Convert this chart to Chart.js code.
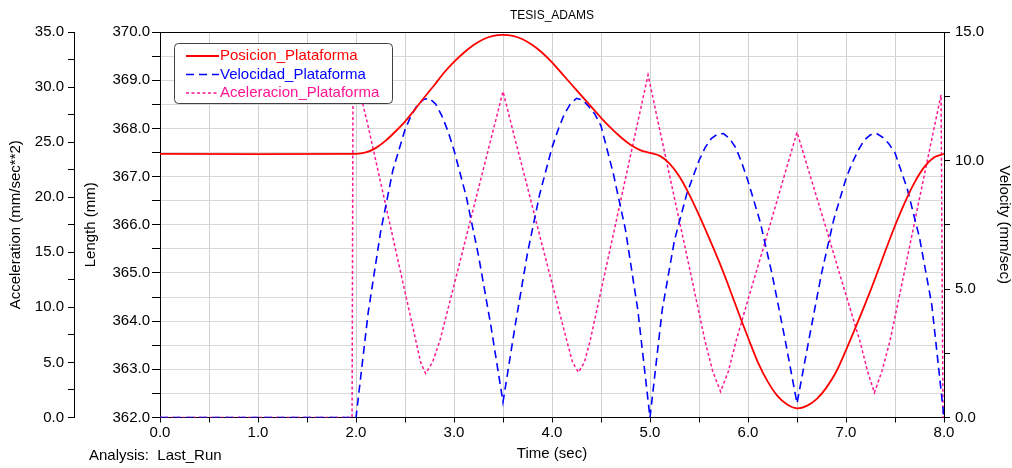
<!DOCTYPE html>
<html lang="es">
<head>
  <meta charset="UTF-8">
  <title>TESIS_ADAMS</title>
  <script src="https://cdn.jsdelivr.net/npm/chart.js"></script>
  <style>
    body { margin: 0; background: #fff; }
  </style>
</head>
<body>
  <canvas id="grafico" width="1012" height="468"></canvas>

  <script>
    // Posicion de la plataforma (mm)
    const posTime = [0, 2.0, 2.1, 2.2, 2.3, 2.4, 2.5, 2.6, 2.7, 2.8, 2.9, 3.0, 3.1, 3.2, 3.3, 3.4, 3.5,
      3.6, 3.7, 3.8, 3.9, 4.0, 4.1, 4.2, 4.3, 4.4, 4.5, 4.6, 4.7, 4.8, 4.9, 5.0,
      5.1, 5.2, 5.3, 5.4, 5.5, 5.6, 5.7, 5.8, 5.9, 6.0, 6.1, 6.2, 6.3, 6.4, 6.5,
      6.6, 6.7, 6.8, 6.9, 7.0, 7.1, 7.2, 7.3, 7.4, 7.5, 7.6, 7.7, 7.8, 7.9, 8.0];
    const posValues = [367.47, 367.47, 367.50, 367.59, 367.74, 367.93, 368.14, 368.39, 368.65, 368.90, 369.16, 369.38, 369.57, 369.73, 369.85, 369.92, 369.94,
      369.92, 369.85, 369.73, 369.57, 369.37, 369.14, 368.91, 368.68, 368.45, 368.22, 368.01, 367.82, 367.66, 367.55, 367.49,
      367.43, 367.27, 367.00, 366.63, 366.20, 365.74, 365.26, 364.74, 364.19, 363.66, 363.15, 362.75, 362.45, 362.27, 362.19,
      362.24, 362.38, 362.62, 362.95, 363.40, 363.88, 364.38, 364.90, 365.45, 365.98, 366.46, 366.88, 367.20, 367.40, 367.47];

    // Velocidad de la plataforma (mm/sec)
    const velTime = [0, 2.0, 2.125, 2.25, 2.375, 2.5, 2.5625, 2.625, 2.6875, 2.75, 2.8125, 2.875, 2.9375, 3.0, 3.125, 3.25, 3.375, 3.5,
      3.625, 3.75, 3.875, 4.0, 4.0625, 4.125, 4.1875, 4.25, 4.3125, 4.375, 4.4375, 4.5, 4.625, 4.75, 4.875, 5.0,
      5.125, 5.25, 5.375, 5.5, 5.5625, 5.625, 5.6875, 5.75, 5.8125, 5.875, 5.9375, 6.0, 6.125, 6.25, 6.375, 6.5,
      6.625, 6.75, 6.875, 7.0, 7.0625, 7.125, 7.1875, 7.25, 7.3125, 7.375, 7.4375, 7.5, 7.625, 7.75, 7.875, 8.0];
    const velValues = [0, 0, 4.1, 7.2, 9.6, 11.2, 11.75, 12.15, 12.37, 12.42, 12.2, 11.75, 11.15, 10.4, 8.6, 6.3, 3.6, 0.6,
      3.6, 6.4, 8.7, 10.5, 11.2, 11.8, 12.2, 12.42, 12.35, 12.1, 11.8, 11.35, 9.5, 7.3, 4.2, 0,
      4.2, 6.9, 8.7, 10.0, 10.5, 10.85, 11.02, 11.05, 10.85, 10.5, 9.9, 9.2, 7.6, 5.5, 3.1, 0.55,
      3.1, 5.6, 7.7, 9.3, 9.9, 10.4, 10.8, 11.0, 11.05, 10.9, 10.65, 10.3, 8.9, 7.0, 4.4, 0];

    // Aceleracion de la plataforma (mm/sec**2)
    const accTime = [0, 1.96, 1.97, 2.125, 2.25, 2.375, 2.5, 2.61, 2.66, 2.71, 2.78, 2.857, 3.0, 3.125, 3.25, 3.375, 3.5,
      3.625, 3.75, 3.875, 4.0, 4.15, 4.21, 4.27, 4.33, 4.39, 4.5, 4.625, 4.75, 4.875, 4.98,
      5.1, 5.25, 5.4, 5.56, 5.64, 5.72, 5.8, 5.88, 6.0, 6.15, 6.3, 6.5,
      6.65, 6.8, 6.95, 7.14, 7.22, 7.29, 7.37, 7.45, 7.6, 7.75, 7.85, 7.97, 7.99, 8.0];
    const accValues = [0, 0, 32.2, 26.4, 21.4, 16.4, 11.4, 7.0, 5.0, 4.0, 5.0, 7.0, 12.0, 16.4, 20.8, 25.2, 29.6,
      25.2, 20.9, 16.5, 12.2, 7.0, 5.0, 4.1, 5.0, 7.0, 11.5, 16.6, 21.7, 26.8, 31.1,
      26.1, 19.9, 13.7, 7.0, 4.2, 2.35, 4.2, 7.0, 10.7, 15.2, 19.8, 25.9,
      21.5, 17.1, 12.6, 7.0, 4.2, 2.25, 4.3, 7.0, 13.4, 19.9, 24.2, 29.3, 0, 0];

    const toPoints = (xs, ys) => xs.map((x, i) => ({ x: x, y: ys[i] }));

    const fuente = '"Liberation Sans", Arial, sans-serif';
    Chart.defaults.font.family = fuente;
    Chart.defaults.font.size = 15;
    Chart.defaults.color = '#000';

    // etiquetas solo en los valores "enteros" de cada eje
    const cada = paso => v => (Math.abs(v / paso - Math.round(v / paso)) < 1e-6 ? v.toFixed(1) : '');

    // titulo, caja de leyenda, borde superior y texto de analisis
    const decorado = {
      id: 'decorado',
      afterDraw(chart) {
        const { ctx, chartArea: a } = chart;
        ctx.save();
        ctx.strokeStyle = '#000';
        ctx.lineWidth = 1;
        ctx.setLineDash([]);
        ctx.beginPath();
        ctx.moveTo(a.left, Math.round(a.top) + 0.5);
        ctx.lineTo(a.right, Math.round(a.top) + 0.5);
        ctx.stroke();

        ctx.fillStyle = '#000';
        ctx.textAlign = 'center';
        ctx.textBaseline = 'middle';
        ctx.font = '12px ' + fuente;
        ctx.fillText('TESIS_ADAMS', (a.left + a.right) / 2, 16);

        // leyenda
        ctx.beginPath();
        ctx.roundRect(174.5, 43.5, 218, 60, 4);
        ctx.fillStyle = '#fff';
        ctx.fill();
        ctx.strokeStyle = '#404040';
        ctx.stroke();

        ctx.font = '15px ' + fuente;
        ctx.textAlign = 'left';
        chart.data.datasets.forEach((ds, i) => {
          const y = 56 + i * 18.5;
          ctx.strokeStyle = ds.borderColor;
          ctx.lineWidth = ds.borderWidth;
          ctx.setLineDash(ds.borderDash || []);
          ctx.beginPath();
          ctx.moveTo(186, y);
          ctx.lineTo(219, y);
          ctx.stroke();
          ctx.fillStyle = ds.borderColor;
          ctx.fillText(ds.label, 220, y);
        });

        ctx.setLineDash([]);
        ctx.fillStyle = '#000';
        ctx.fillText('Analysis:  Last_Run', 89, 456);
        ctx.restore();
      }
    };

    const ctx = document.getElementById('grafico').getContext('2d');
    new Chart(ctx, {
      type: 'line',
      data: {
        datasets: [
          {
            label: 'Posicion_Plataforma',
            data: toPoints(posTime, posValues),
            yAxisID: 'yLen',
            borderColor: '#ff0000',
            borderWidth: 1.8,
            tension: 0.3,
            pointRadius: 0
          },
          {
            label: 'Velocidad_Plataforma',
            data: toPoints(velTime, velValues),
            yAxisID: 'yVel',
            borderColor: '#0000ff',
            borderWidth: 1.6,
            borderDash: [8, 5],
            tension: 0,
            pointRadius: 0
          },
          {
            label: 'Aceleracion_Plataforma',
            data: toPoints(accTime, accValues),
            yAxisID: 'yAcc',
            borderColor: '#ff1493',
            borderWidth: 1.5,
            borderDash: [3, 2.5],
            tension: 0,
            pointRadius: 0
          }
        ]
      },
      options: {
        responsive: false,
        animation: false,
        layout: { padding: { top: 32 } },
        plugins: {
          legend: { display: false },
          tooltip: { enabled: false },
          title: { display: false }
        },
        scales: {
          x: {
            type: 'linear',
            min: 0,
            max: 8,
            ticks: { stepSize: 0.5, autoSkip: false, maxRotation: 0, padding: 1, callback: cada(1) },
            grid: { color: '#d0d0d0', tickColor: '#000', tickLength: 5 },
            border: { color: '#000' },
            title: { display: true, text: 'Time (sec)', font: { size: 15 }, padding: { top: 0, bottom: 5 } },
            afterFit: s => { s.height = 50.5; }
          },
          yLen: {
            type: 'linear',
            position: 'left',
            weight: 0,
            min: 362,
            max: 370,
            ticks: { stepSize: 0.5, autoSkip: false, padding: 2, callback: cada(1) },
            grid: { color: '#d8d8d8', tickColor: '#000', tickLength: 8 },
            border: { color: '#000' },
            title: { display: true, text: 'Length (mm)', font: { size: 15 }, padding: { top: 8, bottom: 0 } },
            afterFit: s => { s.width = 86; }
          },
          yAcc: {
            type: 'linear',
            position: 'left',
            weight: 10,
            min: 0,
            max: 35,
            ticks: { stepSize: 2.5, autoSkip: false, padding: 4, callback: cada(5) },
            grid: { drawOnChartArea: false, tickColor: '#000', tickLength: 6 },
            border: { color: '#000' },
            title: { display: true, text: 'Acceleration (mm/sec**2)', font: { size: 15 }, padding: { top: 7, bottom: 0 } },
            afterFit: s => { s.width = 74; }
          },
          yVel: {
            type: 'linear',
            position: 'right',
            min: 0,
            max: 15,
            ticks: { stepSize: 2.5, autoSkip: false, padding: 5, callback: cada(5) },
            grid: { drawOnChartArea: false, tickColor: '#000', tickLength: 6 },
            border: { color: '#000' },
            title: { display: true, text: 'Velocity (mm/sec)', font: { size: 15, lineHeight: 1 }, padding: { top: 0, bottom: 0 } },
            afterFit: s => { s.width = 68; }
          }
        }
      },
      plugins: [decorado]
    });
  </script>
</body>
</html>
